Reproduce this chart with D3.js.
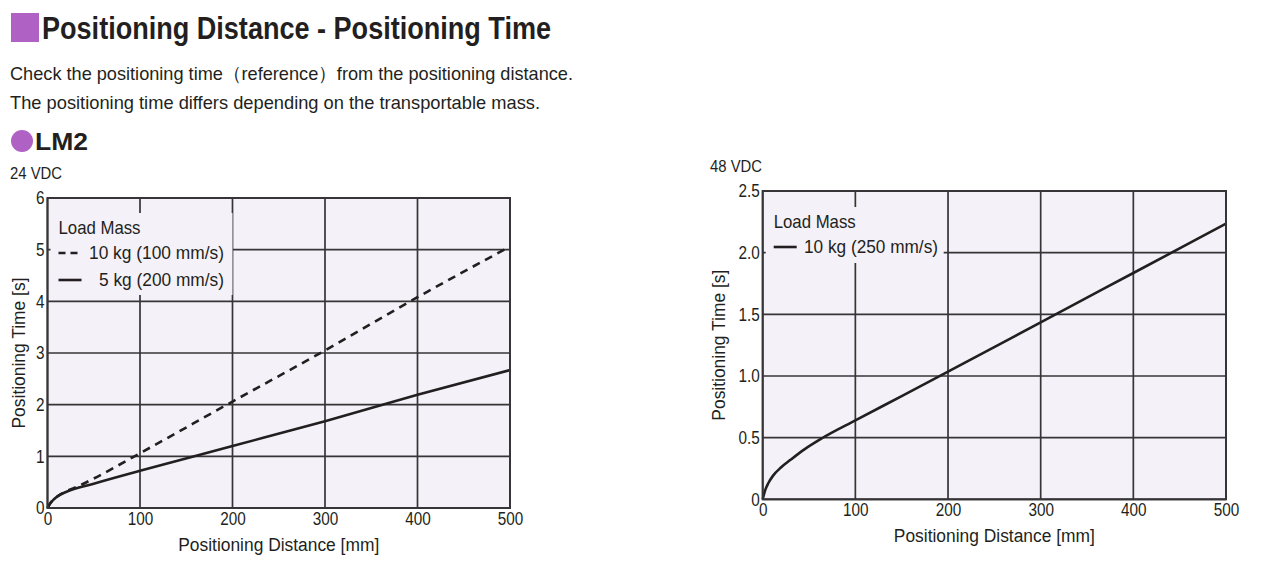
<!DOCTYPE html>
<html><head><meta charset="utf-8">
<script src="https://cdn.jsdelivr.net/npm/d3@7"></script>
<style>
body{margin:0;background:#fff}
svg{display:block}
text{font-family:"Liberation Sans",Arial,sans-serif;fill:#231f20}
</style>
</head><body>
<svg id="c" width="1280" height="565"></svg>
<script>
// ---- data ----
const xTicks = [0, 100, 200, 300, 400, 500];
const leftYTicks = [0, 1, 2, 3, 4, 5, 6];
const rightYTicks = [0, 0.5, 1.0, 1.5, 2.0, 2.5];
const leftLegendTitle = "Load Mass";
const rightLegendTitle = "Load Mass";
const seriesNames24 = ["10 kg (100 mm/s)", "5 kg (200 mm/s)"];
const seriesNames48 = ["10 kg (250 mm/s)"];
// 24 VDC, 10 kg (100 mm/s) [distance mm, time s]
const vdc24_10kg = [[0,0],[3,0.09],[7,0.17],[12,0.24],[20,0.32],[33,0.42],[50,0.57],[100,1.06],[200,2.06],[300,3.05],[400,4.08],[500,5.06]];
// 24 VDC, 5 kg (200 mm/s)
const vdc24_5kg = [[0,0],[3,0.09],[7,0.17],[12,0.24],[20,0.31],[50,0.47],[100,0.72],[200,1.2],[300,1.68],[400,2.19],[500,2.67]];
// 48 VDC, 10 kg (250 mm/s)
const vdc48_10kg = [[0,0],[3,0.08],[6,0.13],[11,0.19],[20,0.26],[30,0.32],[45,0.405],[64,0.495],[100,0.64],[150,0.837],[200,1.035],[300,1.435],[400,1.835],[500,2.235]];

const svg = d3.select("#c");
const ink = "#231f20";
const purple = "#b062c4";
const plotBg = "#f5f1f8";
const gridC = "#363436";

// squeeze a text to a target width (or by a factor) to mimic a condensed face
function fit(sel, w) {
  sel.each(function () {
    const n = this.getComputedTextLength();
    const target = (w == null) ? n * 0.84 : (w < 2 ? n * w : w);
    d3.select(this).attr("textLength", target).attr("lengthAdjust", "spacingAndGlyphs");
  });
  return sel;
}

// ---- header ----
svg.append("rect").attr("x", 11).attr("y", 13).attr("width", 28).attr("height", 29).attr("fill", purple);
fit(svg.append("text").attr("x", 42).attr("y", 39).attr("font-size", 31).attr("font-weight", "bold")
  .text("Positioning Distance - Positioning Time"), 509);
fit(svg.append("text").attr("x", 10).attr("y", 80).attr("font-size", 18.5)
  .text("Check the positioning time（reference）from the positioning distance."), 563);
fit(svg.append("text").attr("x", 10).attr("y", 109).attr("font-size", 18.5)
  .text("The positioning time differs depending on the transportable mass."), 530);
svg.append("circle").attr("cx", 22).attr("cy", 141).attr("r", 11).attr("fill", purple);
fit(svg.append("text").attr("x", 35).attr("y", 150).attr("font-size", 23).attr("font-weight", "bold")
  .text("LM2"), 53);

function chart(o) {
  const x = d3.scaleLinear().domain([0, 500]).range([o.x0, o.x1]);
  const y = d3.scaleLinear().domain([0, o.yMax]).range([o.y0, o.y1]);
  const g = svg.append("g");
  g.append("rect").attr("x", o.x0).attr("y", o.y1).attr("width", o.x1 - o.x0).attr("height", o.y0 - o.y1).attr("fill", plotBg);
  // grid
  g.append("g").selectAll("line").data(o.xTicks).join("line")
    .attr("x1", d => x(d)).attr("x2", d => x(d)).attr("y1", o.y0).attr("y2", o.y1)
    .attr("stroke", gridC).attr("stroke-width", 1.7);
  g.append("g").selectAll("line").data(o.yTicks).join("line")
    .attr("x1", o.x0).attr("x2", o.x1).attr("y1", d => y(d)).attr("y2", d => y(d))
    .attr("stroke", gridC).attr("stroke-width", 1.7);
  // legend background (hides grid)
  g.append("rect").attr("x", o.x0 + 3).attr("y", o.leg.y).attr("width", o.leg.w).attr("height", o.leg.h).attr("fill", plotBg);
  // curves
  const line = d3.line().x(d => x(d[0])).y(d => y(d[1])).curve(d3.curveMonotoneX);
  o.series.forEach(s => {
    g.append("path").attr("d", line(s.data)).attr("fill", "none").attr("stroke", ink)
      .attr("stroke-width", 2.6).attr("stroke-dasharray", s.dash || null);
  });
  // frame
  g.append("rect").attr("x", o.x0).attr("y", o.y1).attr("width", o.x1 - o.x0).attr("height", o.y0 - o.y1)
    .attr("fill", "none").attr("stroke", gridC).attr("stroke-width", 2);
  // axes labels
  const ax = d3.axisBottom(x).tickValues(o.xTicks).tickSize(0).tickPadding(4);
  const axG = g.append("g").attr("transform", `translate(0,${o.y0})`).call(ax);
  axG.select(".domain").remove();
  fit(axG.selectAll("text").attr("font-size", 18).attr("fill", ink).attr("font-family", null), 0.85);
  const ay = d3.axisLeft(y).tickValues(o.yTicks).tickSize(0).tickPadding(3).tickFormat(o.yFmt);
  const ayG = g.append("g").attr("transform", `translate(${o.x0},0)`).call(ay);
  ayG.select(".domain").remove();
  fit(ayG.selectAll("text").attr("font-size", 18).attr("fill", ink).attr("font-family", null), 0.85);
  // titles
  fit(g.append("text").attr("x", (o.x0 + o.x1) / 2).attr("y", o.y0 + 43).attr("text-anchor", "middle")
    .attr("font-size", 18).text("Positioning Distance [mm]"), 201);
  fit(g.append("text").attr("transform", `translate(${o.x0 - o.ytOff},${(o.y0 + o.y1) / 2}) rotate(-90)`)
    .attr("text-anchor", "middle").attr("font-size", 18).text("Positioning Time [s]"), 151);
  fit(g.append("text").attr("x", o.vx).attr("y", o.y1 - 19).attr("font-size", 16).text(o.volt), 52);
  // legend
  fit(g.append("text").attr("x", o.x0 + 11).attr("y", o.leg.y + 21).attr("font-size", 18.5).text(o.legTitle), 82);
  o.series.forEach((s, i) => {
    const ly = o.leg.y + 40 + i * 27;
    g.append("line").attr("x1", o.x0 + 11).attr("x2", o.x0 + 34).attr("y1", ly).attr("y2", ly)
      .attr("stroke", ink).attr("stroke-width", 2.6).attr("stroke-dasharray", s.dash ? "7,5" : null);
    fit(g.append("text").attr("x", o.leg.textEnd).attr("y", ly + 6).attr("text-anchor", "end")
      .attr("font-size", 18.5).text(s.name), s.w);
  });
}

chart({
  x0: 47.5, x1: 510, y0: 508, y1: 198, yMax: 6, vx: 10, volt: "24 VDC", ytOff: 23,
  xTicks: xTicks, yTicks: leftYTicks, yFmt: d3.format("d"),
  leg: {y: 213, w: 182, h: 82, textEnd: 224}, legTitle: leftLegendTitle,
  series: [
    {name: seriesNames24[0], data: vdc24_10kg, dash: "8,6", w: 135},
    {name: seriesNames24[1], data: vdc24_5kg, w: 125}
  ]
});
chart({
  x0: 762.7, x1: 1226, y0: 499.3, y1: 191, yMax: 2.5, vx: 710, volt: "48 VDC", ytOff: 38,
  xTicks: xTicks, yTicks: rightYTicks, yFmt: d => d === 0 ? "0" : d.toFixed(1),
  leg: {y: 207, w: 178, h: 56, textEnd: 938}, legTitle: rightLegendTitle,
  series: [
    {name: seriesNames48[0], data: vdc48_10kg, w: 134}
  ]
});
</script>
</body></html>
